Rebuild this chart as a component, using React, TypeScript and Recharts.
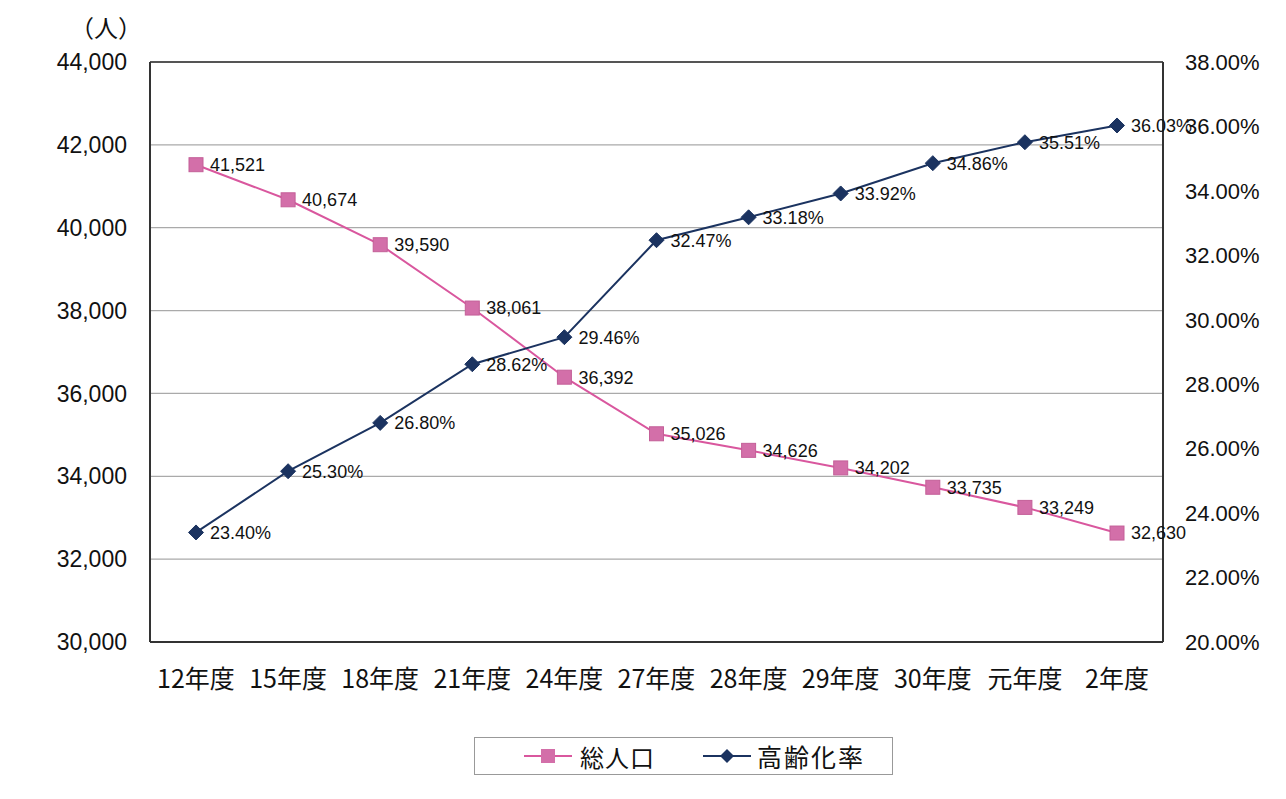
import React from 'react';
import { LineChart, Line, XAxis, YAxis, CartesianGrid, LabelList, Legend, ReferenceLine } from 'recharts';

const categories = ['12年度', '15年度', '18年度', '21年度', '24年度', '27年度', '28年度', '29年度', '30年度', '元年度', '2年度'];
const totalPopulation = [41521, 40674, 39590, 38061, 36392, 35026, 34626, 34202, 33735, 33249, 32630];
const agingRate = [23.4, 25.3, 26.8, 28.62, 29.46, 32.47, 33.18, 33.92, 34.86, 35.51, 36.03];
const leftTicks = [30000, 32000, 34000, 36000, 38000, 40000, 42000, 44000];
const rightTicks = [20, 22, 24, 26, 28, 30, 32, 34, 36, 38];

const data = categories.map((c, i) => ({ name: c, pop: totalPopulation[i], rate: agingRate[i] }));

const PINK_LINE = '#d9579e';
const PINK_FILL = '#d36fa9';
const NAVY = '#1b3360';
const LATIN = '"Liberation Sans", Arial, sans-serif';
const CJK = '"Noto Sans CJK JP", sans-serif';

const SquareDot = (props: any) => {
  const { cx, cy, index } = props;
  if (cx == null || cy == null) return <g key={index} />;
  return <rect key={index} x={cx - 7} y={cy - 7} width={14} height={14} fill={PINK_FILL} stroke="#c45f98" strokeWidth={1} />;
};

const DiamondDot = (props: any) => {
  const { cx, cy, index } = props;
  if (cx == null || cy == null) return <g key={index} />;
  const r = 7.5;
  return <path key={index} d={`M${cx},${cy - r} L${cx + r},${cy} L${cx},${cy + r} L${cx - r},${cy} Z`} fill={NAVY} stroke={NAVY} strokeWidth={1} />;
};

const LegendContent = () => (
  <div style={{ width: 419, height: 38, border: '1px solid #999', boxSizing: 'border-box', display: 'flex', alignItems: 'center', background: '#fff' }}>
    <svg width={48} height={20} style={{ marginLeft: 49 }}>
      <line x1={0} y1={10} x2={48} y2={10} stroke={PINK_LINE} strokeWidth={2} />
      <rect x={17} y={3} width={14} height={14} fill={PINK_FILL} />
    </svg>
    <span style={{ fontFamily: CJK, fontSize: 24, marginLeft: 8, letterSpacing: 1, color: '#111' }}>総人口</span>
    <svg width={48} height={20} style={{ marginLeft: 48 }}>
      <line x1={0} y1={10} x2={48} y2={10} stroke={NAVY} strokeWidth={2} />
      <path d="M24,3 L31,10 L24,17 L17,10 Z" fill={NAVY} />
    </svg>
    <span style={{ fontFamily: CJK, fontSize: 25, marginLeft: 6, letterSpacing: 2, color: '#111' }}>高齢化率</span>
  </div>
);

export default function App() {
  return (
    <div style={{ position: 'relative', width: 1270, height: 783, background: '#fff' }}>
      <div style={{ position: 'absolute', left: -4, top: -5, width: 1276, height: 800, border: '2px solid #999', boxSizing: 'border-box', pointerEvents: 'none' }} />
      <LineChart width={1270} height={783} data={data} margin={{ top: 54, right: 0, bottom: 99, left: 0 }}>
        <CartesianGrid horizontal vertical={false} stroke="#aaa" strokeWidth={1.2} yAxisId="left" />
        <XAxis
          dataKey="name"
          padding={{ left: 46, right: 46 }}
          tickLine={false}
          axisLine={{ stroke: '#333', strokeWidth: 2 }}
          tickMargin={22}
          height={50}
          tick={{ fontFamily: CJK, fontSize: 25, fill: '#111' }}
          interval={0}
        />
        <YAxis
          yAxisId="left"
          width={142}
          domain={[30000, 44000]}
          ticks={leftTicks}
          tickFormatter={(v: number) => v.toLocaleString('en-US')}
          tickLine={false}
          tickSize={0}
          tickMargin={23}
          axisLine={{ stroke: '#333', strokeWidth: 2 }}
          tick={{ fontFamily: LATIN, fontSize: 23, fill: '#111' }}
          label={{ value: '（人）', position: 'top', offset: 25, dx: 27, style: { fontFamily: CJK, fontSize: 24, fill: '#111' } }}
        />
        <YAxis
          yAxisId="right"
          orientation="right"
          width={115}
          domain={[20, 38]}
          ticks={rightTicks}
          tickFormatter={(v: number) => `${v.toFixed(2)}%`}
          tickLine={false}
          tickSize={0}
          tickMargin={22}
          axisLine={{ stroke: '#333', strokeWidth: 2 }}
          tick={{ fontFamily: LATIN, fontSize: 22, fill: '#111' }}
        />
        <ReferenceLine yAxisId="left" y={44000} stroke="#555" strokeWidth={2} />
        <Legend
          layout="horizontal"
          verticalAlign="middle"
          align="center"
          wrapperStyle={{ left: 466, top: 729, width: 419, height: 38 }}
          content={() => <LegendContent />}
        />
        <Line
          yAxisId="left"
          dataKey="pop"
          type="linear"
          stroke={PINK_LINE}
          strokeWidth={2}
          dot={SquareDot}
          activeDot={false}
          isAnimationActive={false}
        >
          <LabelList
            dataKey="pop"
            position="right"
            offset={14}
            formatter={(v: any) => Number(v).toLocaleString('en-US')}
            style={{ fontFamily: LATIN, fontSize: 18, fill: '#111' }}
          />
        </Line>
        <Line
          yAxisId="right"
          dataKey="rate"
          type="linear"
          stroke={NAVY}
          strokeWidth={2}
          dot={DiamondDot}
          activeDot={false}
          isAnimationActive={false}
        >
          <LabelList
            dataKey="rate"
            position="right"
            offset={14}
            formatter={(v: any) => `${Number(v).toFixed(2)}%`}
            style={{ fontFamily: LATIN, fontSize: 18, fill: '#111' }}
          />
        </Line>
      </LineChart>
    </div>
  );
}
